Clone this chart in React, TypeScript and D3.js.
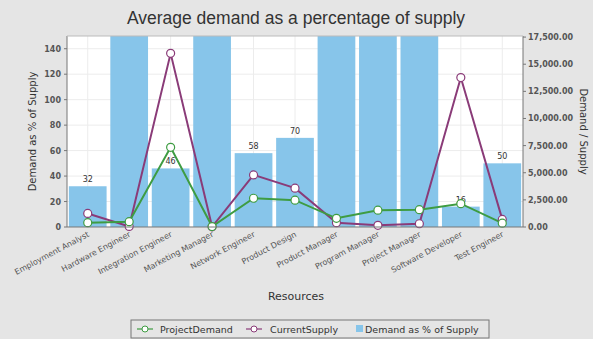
import React from "react";
import * as d3 from "d3";

const categories = [
  "Employment Analyst",
  "Hardware Engineer",
  "Integration Engineer",
  "Marketing Manager",
  "Network Engineer",
  "Product Design",
  "Product Manager",
  "Program Manager",
  "Project Manager",
  "Software Developer",
  "Test Engineer",
];

// Demand as % of supply (bars, left axis)
const demandPct = [32, 980, 46, 267, 58, 70, 200, 1033, 533, 16, 50];
// Project demand (line, right axis)
const projectDemand = [400, 490, 7340, 40, 2650, 2470, 800, 1550, 1600, 2150, 350];
// Current supply (line, right axis)
const currentSupply = [1250, 50, 16000, 15, 4800, 3580, 400, 150, 300, 13770, 700];

const leftTicks = [0, 20, 40, 60, 80, 100, 120, 140];
const rightTicks = [0, 2500, 5000, 7500, 10000, 12500, 15000, 17500];

const W = 593;
const H = 339;
const M = { left: 67, right: 523, top: 36, bottom: 227 };
const LEFT_MAX = 150;

const BAR = "#87c5ea";
const GREEN = "#3e9c42";
const PURPLE = "#8a3b78";
const tickFont = "'DejaVu Sans', sans-serif";

export default function App() {
  const x = d3
    .scaleBand<string>()
    .domain(categories)
    .range([M.left, M.right])
    .paddingInner(0.09)
    .paddingOuter(0.045);
  const yL = d3.scaleLinear().domain([0, LEFT_MAX]).range([M.bottom, M.top]);
  const yR = d3.scaleLinear().domain([0, 17600]).range([M.bottom, M.top]);
  const cx = (c: string) => (x(c) as number) + x.bandwidth() / 2;
  const step = (M.right - M.left) / categories.length;

  const lineGen = (vals: number[]) =>
    d3
      .line<number>()
      .x((_, i) => cx(categories[i]))
      .y((v) => yR(v))(vals) as string;

  const fmt = d3.format(",.2f");

  return (
    <svg
      width={W}
      height={H}
      style={{ position: "absolute", left: 0, top: 0, background: "#e5e5e5" }}
      fontFamily="'Liberation Sans', Arial, sans-serif"
    >
      <defs>
        <clipPath id="plot">
          <rect x={M.left} y={M.top} width={M.right - M.left} height={M.bottom - M.top} />
        </clipPath>
      </defs>
      <rect x={0} y={0} width={W} height={H} fill="#e5e5e5" />
      <text x={296} y={24} textAnchor="middle" fontSize={17.5} fill="#333">
        Average demand as a percentage of supply
      </text>

      {/* plot background and grid */}
      <rect x={M.left} y={M.top} width={M.right - M.left} height={M.bottom - M.top} fill="#fff" />
      <g stroke="#ececec" strokeWidth={1}>
        {leftTicks.map((t) => (
          <line key={"h" + t} x1={M.left} x2={M.right} y1={yL(t)} y2={yL(t)} />
        ))}
        {categories.map((c, i) => (
          <line key={"v" + c} x1={M.left + step * (i + 0.5)} x2={M.left + step * (i + 0.5)} y1={M.top} y2={M.bottom} />
        ))}
      </g>

      {/* bars */}
      <g clipPath="url(#plot)">
        {categories.map((c, i) => (
          <rect
            key={c}
            x={x(c)}
            y={yL(Math.min(demandPct[i], LEFT_MAX))}
            width={x.bandwidth()}
            height={M.bottom - yL(Math.min(demandPct[i], LEFT_MAX))}
            fill={BAR}
          />
        ))}
      </g>
      {categories.map((c, i) =>
        demandPct[i] < LEFT_MAX ? (
          <text
            key={"l" + c}
            x={cx(c)}
            y={yL(demandPct[i]) - 4}
            textAnchor="middle"
            fontSize={8}
            fontFamily={tickFont}
            fill="#333"
          >
            {demandPct[i]}
          </text>
        ) : null
      )}

      {/* lines */}
      <path d={lineGen(currentSupply)} fill="none" stroke={PURPLE} strokeWidth={2} />
      <path d={lineGen(projectDemand)} fill="none" stroke={GREEN} strokeWidth={2} />
      {currentSupply.map((v, i) => (
        <circle key={"s" + i} cx={cx(categories[i])} cy={yR(v)} r={4} fill="#fff" stroke={PURPLE} strokeWidth={1.2} />
      ))}
      {projectDemand.map((v, i) => (
        <circle key={"d" + i} cx={cx(categories[i])} cy={yR(v)} r={4} fill="#fff" stroke={GREEN} strokeWidth={1.2} />
      ))}

      {/* axes */}
      <line x1={M.left} x2={M.left} y1={M.top} y2={M.bottom} stroke="#777" />
      <line x1={M.right} x2={M.right} y1={M.top} y2={M.bottom} stroke="#777" />
      <line x1={M.left} x2={M.right} y1={M.bottom} y2={M.bottom} stroke="#777" />
      <line x1={M.left} x2={M.right} y1={M.top} y2={M.top} stroke="#bbb" />

      {leftTicks.map((t) => (
        <g key={"lt" + t}>
          <line x1={M.left - 3} x2={M.left} y1={yL(t)} y2={yL(t)} stroke="#777" />
          <text
            x={M.left - 6}
            y={yL(t) + 3}
            textAnchor="end"
            fontSize={8}
            fontWeight="bold"
            fontFamily={tickFont}
            fill="#555"
          >
            {t}
          </text>
        </g>
      ))}
      {rightTicks.map((t) => (
        <g key={"rt" + t}>
          <line x1={M.right} x2={M.right + 3} y1={yR(t)} y2={yR(t)} stroke="#777" />
          <text
            x={M.right + 5}
            y={yR(t) + 3}
            textAnchor="start"
            fontSize={8}
            fontWeight="bold"
            fontFamily={tickFont}
            fill="#555"
          >
            {fmt(t)}
          </text>
        </g>
      ))}

      <text
        transform={`translate(36,${(M.top + M.bottom) / 2}) rotate(-90)`}
        textAnchor="middle"
        fontSize={10}
        fontFamily={tickFont}
        fill="#333"
      >
        Demand as % of Supply
      </text>
      <text
        transform={`translate(580,${(M.top + M.bottom) / 2}) rotate(90)`}
        textAnchor="middle"
        fontSize={10}
        fontFamily={tickFont}
        fill="#333"
      >
        Demand / Supply
      </text>

      {/* category labels */}
      {categories.map((c) => (
        <text
          key={"x" + c}
          transform={`translate(${cx(c) + 2},${M.bottom + 9}) rotate(-28)`}
          textAnchor="end"
          fontSize={8}
          fontFamily={tickFont}
          fill="#555"
        >
          {c}
        </text>
      ))}

      <text x={296} y={300} textAnchor="middle" fontSize={11} fontFamily={tickFont} fill="#333">
        Resources
      </text>

      {/* legend */}
      <g fontFamily={tickFont} fontSize={9.5} fill="#333">
        <rect x={131} y={320} width={358} height={18} fill="#e5e5e5" stroke="#777" />
        <line x1={137} x2={153} y1={329} y2={329} stroke={GREEN} strokeWidth={1.2} />
        <circle cx={145} cy={329} r={3} fill="#fff" stroke={GREEN} />
        <text x={160} y={332.5}>ProjectDemand</text>
        <line x1={246} x2={262} y1={329} y2={329} stroke={PURPLE} strokeWidth={1.2} />
        <circle cx={254} cy={329} r={3} fill="#fff" stroke={PURPLE} />
        <text x={270} y={332.5}>CurrentSupply</text>
        <rect x={356} y={325} width={7} height={7} fill={BAR} />
        <text x={365} y={332.5}>Demand as % of Supply</text>
      </g>
    </svg>
  );
}
